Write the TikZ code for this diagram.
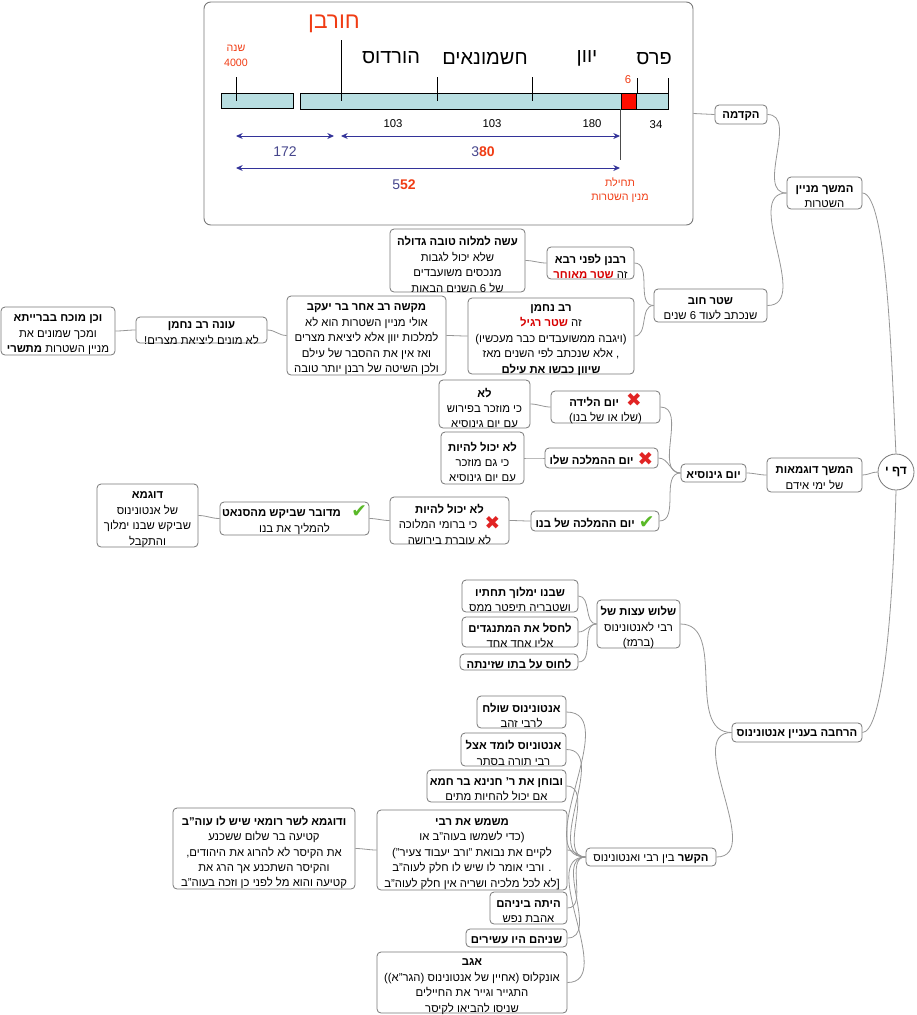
\documentclass[tikz,border=0pt]{standalone}
\usepackage{fontspec}
\setmainfont{Liberation Sans}[Script=Hebrew]
\newfontfamily\symfont{DejaVu Sans}
\TeXXeTstate=1
\usetikzlibrary{fit,arrows.meta}
\definecolor{tlred}{RGB}{240,60,20}
\definecolor{hred}{RGB}{215,0,0}
\definecolor{arrowblue}{RGB}{51,51,153}
\definecolor{numblue}{RGB}{70,70,140}
\definecolor{barfill}{RGB}{184,222,225}
\definecolor{boxline}{RGB}{120,120,120}
\definecolor{connline}{RGB}{150,150,150}
\definecolor{xred}{RGB}{225,35,35}
\definecolor{ckgreen}{RGB}{90,185,40}
\newcommand\xm{\hspace{3pt}\smash{\raisebox{-0.5pt}{\symfont\color{xred}\fontsize{14}{11}\selectfont ✖}}}
\newcommand\cm{\hspace{3pt}\smash{\raisebox{-0.5pt}{\symfont\color{ckgreen}\fontsize{14}{11}\selectfont ✔}}}
\newcommand\bx[7][-3pt]{\node[boxshape,fit={(#3,#4)(#5,#6)}] (#2) {};
  \node[boxtext,yshift=#1] (#2-t) at (#2.center) {#7};}
\tikzset{
  boxshape/.style={draw=boxline, line width=0.6pt, rounded corners=3pt, fill=white, inner sep=0pt},
  boxtext/.style={inner sep=0pt, align=center, font=\fontsize{8.5}{11.6}\selectfont},
  conn/.style={draw=connline, line width=0.6pt},
  big/.style={font=\fontsize{15}{17}\selectfont},
  small/.style={font=\fontsize{8}{10}\selectfont},
  num/.style={font=\fontsize{8.5}{10}\selectfont},
  midnum/.style={font=\fontsize{10.5}{12}\selectfont},
  bar/.style={draw=black, line width=0.6pt, fill=barfill},
  marr/.style={draw=arrowblue, line width=0.7pt, {Stealth[length=5pt,width=4.5pt]}-{Stealth[length=5pt,width=4.5pt]}},
  tick/.style={draw=black, line width=0.6pt}
}
\begin{document}
\begin{tikzpicture}[x=0.75pt,y=-0.75pt]
\useasboundingbox (0,0) rectangle (917,1015);
\path (204,2) coordinate (tlnw) (693,225) coordinate (tlse);
% ---------- timeline box ----------
\node[draw=boxline, line width=0.7pt, rounded corners=5pt, fit={(tlnw)(tlse)}, inner sep=0pt] (tl) {};
\draw[bar] (221,93) rectangle (293,108);
\draw[bar] (300,93) rectangle (668,109);
\draw[draw=black, line width=0.6pt, fill=red!90!orange] (621,93) rectangle (636,109);
\draw[tick] (236,77) -- (236,101);
\draw[tick] (341,40) -- (341,101);
\draw[tick] (437,77) -- (437,101);
\draw[tick] (532,77) -- (532,101);
\draw[tick] (637,78) -- (637,93);
\draw[tick] (668,78) -- (668,93);
\draw[draw=black!70, line width=0.6pt] (620,109) -- (620,160);
\node[tlred, font=\fontsize{17}{19}\selectfont] (horban) at (334,24) {\beginR חורבן\endR};
\node[big] (hordos) at (391,58) {\beginR הורדוס\endR};
\node[big] (hashm) at (485,58) {\beginR חשמונאים\endR};
\node[big] (yavan) at (587,58) {\beginR יוון\endR};
\node[big] (paras) at (654,59) {\beginR פרס\endR};
\node[tlred, small] (shana) at (236,48) {\beginR שנה\endR};
\node[tlred, small] (y4000) at (236,63) {4000};
\node[tlred, num] (six) at (628,80) {6};
\node[num] (n1) at (393,124) {103};
\node[num] (n2) at (492,124) {103};
\node[num] (n3) at (592,124) {180};
\node[num] (n4) at (656,125) {34};
\coordinate (a1l) at (236,136); \coordinate (a1r) at (334,136);
\coordinate (a2l) at (341,136); \coordinate (a2r) at (620,136);
\coordinate (a3l) at (236,168); \coordinate (a3r) at (620,168);
\draw[marr] (a1l) -- (a1r);
\draw[marr] (a2l) -- (a2r);
\draw[marr] (a3l) -- (a3r);
\node[midnum, numblue] (d172) at (285,152) {172};
\node[midnum] (d380) at (483,152) {{\color{numblue}3}{\color{tlred}\bfseries 80}};
\node[midnum] (d552) at (404,185) {{\color{numblue}5}{\color{tlred}\bfseries 52}};
\node[tlred, small] (thilat) at (620,182) {\beginR תחילת\endR};
\node[tlred, small] (mnin) at (620,198) {\beginR מנין השטרות\endR};
% ---------- right spine ----------
\bx[-1.5pt]{hakdama}{715}{105}{767}{124}{{\bfseries\beginR הקדמה\endR}}
\bx[-2.5pt]{minyan}{787}{177}{862}{209}{{\bfseries\beginR המשך מניין\endR}\\\beginR השטרות\endR}
\bx[-2.5pt]{shtar}{654}{289}{767}{322}{{\bfseries\beginR שטר חוב\endR}\\\beginR שנכתב לעוד 6 שנים\endR}
\node[draw=boxline, line width=0.6pt, circle, fill=white, minimum size=27pt, inner sep=0pt, font=\fontsize{9}{10}\selectfont\bfseries] (daf) at (896,472) {\beginR דף י\endR};
\bx[-2.5pt]{dugmaot}{767}{458}{862}{492}{{\bfseries\beginR המשך דוגמאות\endR}\\\beginR של ימי אידם\endR}
\bx[-1.5pt]{harchava}{732}{723}{862}{742}{{\bfseries\beginR הרחבה בעניין אנטונינוס\endR}}
% ---------- shtar branch ----------
\bx[-2.5pt]{rabanan}{547}{247}{634}{279}{{\bfseries\beginR רבנן לפני רבא\endR}\\{\color{hred}\bfseries\beginR שטר מאוחר\endR}\ \beginR זה\endR}
\bx{ase}{390}{229}{525}{292}{{\bfseries\beginR עשה למלוה טובה גדולה\endR}\\\beginR שלא יכול לגבות\endR\\\beginR מנכסים משועבדים\endR\\\beginR של 6 השנים הבאות\endR}
\bx{nachman}{468}{298}{634}{374}{{\bfseries\beginR רב נחמן\endR}\\{\color{hred}\bfseries\beginR שטר רגיל\endR}\ \beginR זה\endR\\\beginR (ויגבה ממשועבדים כבר מעכשיו)\endR\\\beginR , אלא שנכתב לפי השנים מאז\endR\\{\bfseries\beginR שיוון כבשו את עילם\endR}}
\bx{makshe}{287}{296}{446}{375}{{\bfseries\beginR מקשה רב אחר בר יעקב\endR}\\\beginR אולי מניין השטרות הוא לא\endR\\\beginR למלכות יוון אלא ליציאת מצרים\endR\\\beginR ואז  אין את ההסבר של עילם\endR\\\beginR ולכן השיטה של רבנן יותר טובה\endR}
\bx[-2.5pt]{one}{136}{317}{267}{343}{{\bfseries\beginR עונה רב נחמן\endR}\\\beginR לא מונים ליציאת מצרים!\endR}
\bx{vechen}{1}{307}{115}{355}{{\bfseries\beginR וכן מוכח בברייתא\endR}\\\beginR ומכך שמונים את\endR\\\beginR מניין השטרות {\bfseries מתשרי}\endR}
% ---------- ginosia branch ----------
\bx[-1.5pt]{ginosia}{681}{464}{746}{482}{{\bfseries\beginR יום גינוסיא\endR}}
\bx[-2.5pt]{leida}{551}{391}{660}{423}{{\bfseries\beginR יום הלידה\endR}\ \xm\\\beginR (שלו או של בנו)\endR}
\bx{lo1}{439}{380}{530}{428}{{\bfseries\beginR לא\endR}\\\beginR כי מוזכר בפירוש\endR\\\beginR עם יום גינוסיא\endR}
\bx[-1.5pt]{hamlacha}{545}{448}{658}{468}{{\bfseries\beginR יום ההמלכה שלו\endR}\xm}
\bx{lo2}{441}{432}{524}{484}{{\bfseries\beginR לא יכול להיות\endR}\\\beginR כי גם מוזכר\endR\\\beginR עם יום גינוסיא\endR}
\bx[-1.5pt]{bno}{531}{511}{659}{531}{{\bfseries\beginR יום ההמלכה של בנו\endR}\cm}
\bx{lo3}{390}{497}{509}{544}{{\bfseries\beginR לא יכול להיות\endR}\\\beginR כי ברומי המלוכה\endR\ \xm\\\beginR לא עוברת בירושה\endR}
\bx[-2.5pt]{medubar}{220}{502}{369}{535}{{\bfseries\beginR מדובר שביקש מהסנאט\endR}\ \ \cm\\\beginR להמליך את בנו\endR}
\bx{dugma}{97}{484}{198}{547}{{\bfseries\beginR דוגמא\endR}\\\beginR של אנטונינוס\endR\\\beginR שביקש שבנו ימלוך\endR\\\beginR והתקבל\endR}
% ---------- antoninus: advice ----------
\bx{shalosh}{597}{600}{680}{648}{{\bfseries\beginR שלוש עצות של\endR}\\\beginR רבי לאנטונינוס\endR\\\beginR (ברמז)\endR}
\bx[-2.5pt]{e1}{462}{580}{578}{612}{{\bfseries\beginR שבנו ימלוך תחתיו\endR}\\\beginR ושטבריה תיפטר ממס\endR}
\bx[-2.5pt]{e2}{462}{617}{578}{647}{{\bfseries\beginR לחסל את המתנגדים\endR}\\\beginR אליו אחד אחד\endR}
\bx[-1.5pt]{e3}{460}{654}{578}{670}{{\bfseries\beginR לחוס על בתו שזינתה\endR}}
% ---------- antoninus: connection ----------
\bx[-1.5pt]{kesher}{586}{848}{716}{866}{\beginR{\bfseries הקשר} בין רבי ואנטונינוס\endR}
\bx[-2.5pt]{k1}{477}{696}{566}{728}{{\bfseries\beginR אנטונינוס שולח\endR}\\\beginR לרבי זהב\endR}
\bx[-2.5pt]{k2}{461}{733}{566}{766}{{\bfseries\beginR אנטוניוס לומד אצל\endR}\\\beginR רבי תורה בסתר\endR}
\bx[-2.5pt]{k3}{427}{770}{566}{802}{{\bfseries\beginR ובוחן את ר' חנינא בר חמא\endR}\\\beginR אם יכול להחיות מתים\endR}
\bx{k4}{377}{810}{567}{890}{{\bfseries\beginR משמש את רבי\endR}\\\beginR (כדי לשמשו בעוה"ב או\endR\\\beginR לקיים את נבואת "ורב יעבוד צעיר")\endR\\\beginR . ורבי אומר לו שיש לו חלק לעוה"ב\endR\\\relax\beginR [לא לכל מלכיה ושריה אין חלק לעוה"ב\endR}
\bx{sar}{173}{808}{355}{889}{{\bfseries\beginR ודוגמא לשר רומאי שיש לו עוה"ב\endR}\\\beginR קטיעה בר שלום ששכנע\endR\\\beginR את הקיסר לא להרוג את היהודים,\endR\\\beginR והקיסר השתכנע אך הרג את\endR\\\beginR קטיעה והוא מל לפני כן וזכה בעוה"ב\endR}
\bx[-2.5pt]{k5}{490}{892}{567}{924}{{\bfseries\beginR היתה ביניהם\endR}\\\beginR אהבת נפש\endR}
\bx[-1.5pt]{k6}{466}{929}{567}{947}{{\bfseries\beginR שניהם היו עשירים\endR}}
\bx{k7}{377}{952}{567}{1013}{{\bfseries\beginR אגב\endR}\\\beginR אונקלוס (אחיין של אנטונינוס (הגר"א))\endR\\\beginR התגייר וגייר את החיילים\endR\\\beginR שניסו להביאו לקיסר\endR}
% ---------- connectors ----------
\draw[conn] (tl.east) -- (hakdama.west);
\draw[conn] (hakdama.east) to[out=0,in=180] (minyan.west);
\draw[conn] (shtar.east) to[out=0,in=180] (minyan.west);
\draw[conn] (minyan.east) .. controls (888,193) and (892,380) .. (daf.north);
\draw[conn] (daf.west) to[out=180,in=0] (dugmaot.east);
\draw[conn] (daf.south) .. controls (892,640) and (880,732) .. (harchava.east);
\draw[conn] (shtar.west) to[out=180,in=0] (rabanan.east);
\draw[conn] (shtar.west) to[out=180,in=0] (nachman.east);
\draw[conn] (rabanan.west) to[out=180,in=0] (ase.east);
\draw[conn] (nachman.west) to[out=180,in=0] (makshe.east);
\draw[conn] (makshe.west) to[out=180,in=0] (one.east);
\draw[conn] (one.west) to[out=180,in=0] (vechen.east);
\draw[conn] (dugmaot.west) to[out=180,in=0] (ginosia.east);
\draw[conn] (ginosia.west) to[out=180,in=0] (leida.east);
\draw[conn] (ginosia.west) to[out=180,in=0] (hamlacha.east);
\draw[conn] (ginosia.west) to[out=180,in=0] (bno.east);
\draw[conn] (leida.west) to[out=180,in=0] (lo1.east);
\draw[conn] (hamlacha.west) to[out=180,in=0] (lo2.east);
\draw[conn] (bno.west) to[out=180,in=0] (lo3.east);
\draw[conn] (lo3.west) to[out=180,in=0] (medubar.east);
\draw[conn] (medubar.west) to[out=180,in=0] (dugma.east);
\draw[conn] (harchava.west) to[out=180,in=0] (shalosh.east);
\draw[conn] (harchava.west) to[out=180,in=0] (kesher.east);
\draw[conn] (shalosh.west) to[out=180,in=0] (e1.east);
\draw[conn] (shalosh.west) to[out=180,in=0] (e2.east);
\draw[conn] (shalosh.west) to[out=180,in=0] (e3.east);
\foreach \k in {k1,k2,k3,k4,k5,k6,k7}{\draw[conn] (kesher.west) to[out=180,in=0] (\k.east);}
\draw[conn] (k4.west) to[out=180,in=0] (sar.east);
\end{tikzpicture}
\end{document}
